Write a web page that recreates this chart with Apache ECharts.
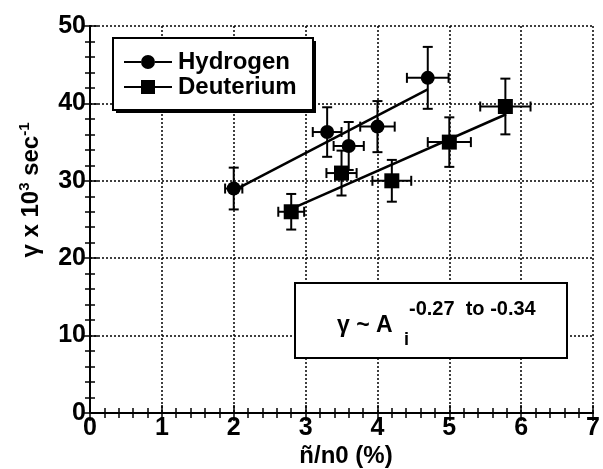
<!DOCTYPE html>
<html>
<head>
<meta charset="utf-8">
<script src="https://cdn.jsdelivr.net/npm/echarts@6/dist/echarts.min.js"></script>
<style>
  html, body { margin: 0; padding: 0; background: #fff; }
  #main { width: 603px; height: 469px; }
</style>
</head>
<body>
<div id="main"></div>
<script>
  // hydrogen points
  var hX = [2.0, 3.3, 3.6, 4.0, 4.7];
  var hY = [29.0, 36.3, 34.5, 37.0, 43.3];
  var hXErr = [0.12, 0.2, 0.21, 0.24, 0.29];
  var hYErr = [2.7, 3.2, 3.1, 3.3, 4.0];
  // deuterium points
  var dX = [2.8, 3.5, 4.2, 5.0, 5.78];
  var dY = [26.0, 31.0, 30.0, 35.0, 39.6];
  var dXErr = [0.18, 0.21, 0.27, 0.3, 0.35];
  var dYErr = [2.3, 2.9, 2.7, 3.2, 3.6];
  // fitted lines (end points)
  var hFitX = [2.05, 4.7];
  var hFitY = [29.0, 41.8];
  var dFitX = [2.88, 5.79];
  var dFitY = [26.7, 38.6];

  var FONT = 'Liberation Sans';
  var circleIcon = 'path://M0,6 L17,6 L17,8 L0,8 Z M31,6 L48,6 L48,8 L31,8 Z M31,7 A7,7 0 1,1 17,7 A7,7 0 1,1 31,7 Z';
  var squareIcon = 'path://M0,6 L17,6 L17,8 L0,8 Z M31,6 L48,6 L48,8 L31,8 Z M17,0 L31,0 L31,14 L17,14 Z';

  function pts(xs, ys) {
    var out = [];
    for (var i = 0; i < xs.length; i++) out.push([xs[i], ys[i]]);
    return out;
  }
  function errPts(xs, ys, ex, ey) {
    var out = [];
    for (var i = 0; i < xs.length; i++) out.push([xs[i], ys[i], ex[i], ey[i]]);
    return out;
  }

  function renderErr(params, api) {
    var x = api.value(0), y = api.value(1), ex = api.value(2), ey = api.value(3);
    var l = api.coord([x - ex, y]);
    var r = api.coord([x + ex, y]);
    var t = api.coord([x, y + ey]);
    var b = api.coord([x, y - ey]);
    var w = 5;
    var st = { stroke: '#000', lineWidth: 2 };
    return {
      type: 'group',
      children: [
        { type: 'line', shape: { x1: l[0], y1: l[1], x2: r[0], y2: r[1] }, style: st },
        { type: 'line', shape: { x1: l[0], y1: l[1] - w, x2: l[0], y2: l[1] + w }, style: st },
        { type: 'line', shape: { x1: r[0], y1: r[1] - w, x2: r[0], y2: r[1] + w }, style: st },
        { type: 'line', shape: { x1: t[0], y1: t[1], x2: b[0], y2: b[1] }, style: st },
        { type: 'line', shape: { x1: t[0] - w, y1: t[1], x2: t[0] + w, y2: t[1] }, style: st },
        { type: 'line', shape: { x1: b[0] - w, y1: b[1], x2: b[0] + w, y2: b[1] }, style: st }
      ]
    };
  }

  var axisLineStyle = { show: true, lineStyle: { color: '#000', width: 2 } };
  var gridLine = { show: true, lineStyle: { color: '#000', width: 1.5, type: [2, 2] } };
  var labelStyle = { color: '#000', fontSize: 25, fontWeight: 'bold', fontFamily: FONT };
  var tickStyle = { show: true, inside: true, length: 8, lineStyle: { color: '#000', width: 1.5 } };
  var minorStyle = { show: true, splitNumber: 5, length: 5, lineStyle: { color: '#000', width: 1.5 } };

  var chart = echarts.init(document.getElementById('main'));
  chart.setOption({
    animation: false,
    backgroundColor: '#fff',
    grid: { left: 90, right: 4, top: 26, bottom: 56 },
    xAxis: [{
      type: 'value', min: 0, max: 7, interval: 1,
      axisLine: axisLineStyle, axisTick: tickStyle, minorTick: minorStyle,
      splitLine: gridLine,
      axisLabel: Object.assign({ margin: 3, showMaxLabel: true }, labelStyle)
    }, {
      type: 'value', position: 'top', min: 0, max: 7, interval: 1,
      axisLine: axisLineStyle, axisTick: tickStyle, minorTick: minorStyle,
      splitLine: { show: false }, axisLabel: { show: false }
    }],
    yAxis: [{
      type: 'value', min: 0, max: 50, interval: 10,
      axisLine: axisLineStyle, axisTick: tickStyle, minorTick: minorStyle,
      splitLine: gridLine,
      axisLabel: Object.assign({ margin: 4 }, labelStyle)
    }, {
      type: 'value', position: 'right', min: 0, max: 50, interval: 10,
      axisLine: axisLineStyle, axisTick: tickStyle, minorTick: minorStyle,
      splitLine: { show: false }, axisLabel: { show: false }
    }],
    legend: {
      left: 124, top: 50,
      orient: 'vertical',
      selectedMode: false,
      padding: 0,
      itemGap: 1,
      itemWidth: 48,
      itemHeight: 14,
      textStyle: { color: '#000', fontSize: 24, fontWeight: 'bold', fontFamily: FONT, lineHeight: 24, padding: [0, 0, 0, 1] },
      data: [
        { name: 'Hydrogen', icon: circleIcon },
        { name: 'Deuterium', icon: squareIcon }
      ]
    },
    series: [
      { name: 'hErr', type: 'custom', renderItem: renderErr, encode: { x: 0, y: 1 }, data: errPts(hX, hY, hXErr, hYErr), z: 3 },
      { name: 'dErr', type: 'custom', renderItem: renderErr, encode: { x: 0, y: 1 }, data: errPts(dX, dY, dXErr, dYErr), z: 3 },
      { name: 'hFit', type: 'line', data: pts(hFitX, hFitY), symbol: 'none', lineStyle: { color: '#000', width: 2.5 }, z: 4 },
      { name: 'dFit', type: 'line', data: pts(dFitX, dFitY), symbol: 'none', lineStyle: { color: '#000', width: 2.5 }, z: 4 },
      { name: 'Hydrogen', type: 'scatter', symbol: 'circle', symbolSize: 14, itemStyle: { color: '#000', opacity: 1 }, data: pts(hX, hY), z: 5 },
      { name: 'Deuterium', type: 'scatter', symbol: 'rect', symbolSize: 15, itemStyle: { color: '#000', opacity: 1 }, data: pts(dX, dY), z: 5 }
    ],
    graphic: [
      // legend frame with its drop shadow
      { type: 'rect', z: 1, shape: { x: 116, y: 41, width: 200, height: 72 }, style: { fill: '#000' } },
      { type: 'rect', z: 2, shape: { x: 113, y: 38, width: 200, height: 72 }, style: { fill: '#fff', stroke: '#000', lineWidth: 2 } },
      {
        type: 'text', x: 31, y: 190, rotation: Math.PI / 2,
        style: {
          text: '{a|γ x 10}{s|3}{a| sec}{s|-1}',
          align: 'center', verticalAlign: 'middle', fill: '#000',
          rich: {
            a: { fontFamily: FONT, fontSize: 24, fontWeight: 'bold', fill: '#000', lineHeight: 28 },
            s: { fontFamily: FONT, fontSize: 15, fontWeight: 'bold', fill: '#000', verticalAlign: 'top', lineHeight: 16 }
          }
        }
      },
      {
        type: 'text', x: 346, y: 456,
        style: { text: 'ñ/n0 (%)', align: 'center', verticalAlign: 'middle', fill: '#000', font: 'bold 24px "Liberation Sans"' }
      },
      {
        type: 'rect', z: 100,
        shape: { x: 295, y: 283, width: 272, height: 75 },
        style: { fill: '#fff', stroke: '#000', lineWidth: 2 }
      },
      {
        type: 'text', z: 101, x: 337, y: 326,
        style: { text: 'γ ~ A', align: 'left', verticalAlign: 'middle', fill: '#000', font: 'bold 23px "Liberation Sans"' }
      },
      {
        type: 'text', z: 101, x: 409, y: 309,
        style: { text: '-0.27  to -0.34', align: 'left', verticalAlign: 'middle', fill: '#000', font: 'bold 20px "Liberation Sans"' }
      },
      {
        type: 'text', z: 101, x: 404, y: 340,
        style: { text: 'i', align: 'left', verticalAlign: 'middle', fill: '#000', font: 'bold 18px "Liberation Sans"' }
      }
    ]
  });
</script>
</body>
</html>
